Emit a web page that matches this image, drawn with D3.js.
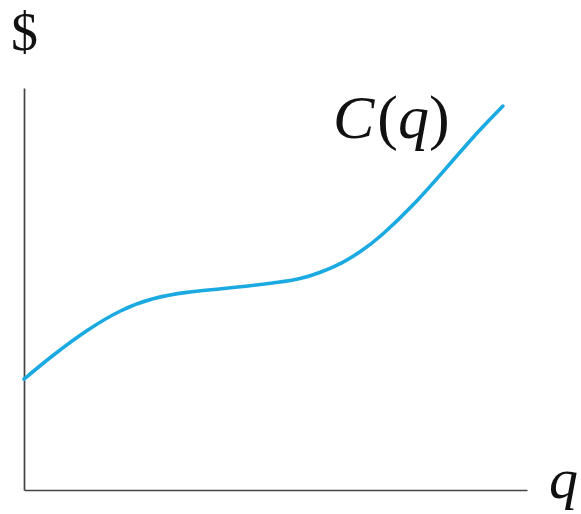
<!DOCTYPE html>
<html>
<head>
<meta charset="utf-8">
<script src="https://cdn.jsdelivr.net/npm/d3@7/dist/d3.min.js"></script>
<style>
  html, body { margin: 0; padding: 0; background: #fff; }
  svg { display: block; }
  .axis path { stroke: #444; stroke-width: 1.7; }
</style>
</head>
<body>
<svg id="chart" width="581" height="514"></svg>
<script>
// Data (arbitrary units 0..10)
const quantity = [0, 0.58, 1.25, 1.91, 2.56, 3.24, 3.90, 4.43, 5.09, 5.49, 5.88, 6.34, 6.72, 7.08, 7.73, 8.41, 9.07, 9.52];
const cost     = [2.76, 3.36, 3.98, 4.48, 4.78, 4.93, 5.00, 5.07, 5.17, 5.25, 5.40, 5.65, 5.95, 6.29, 7.06, 8.03, 8.98, 9.55];
const xDomain = [0, 10];
const yDomain = [0, 10];
const curveLabel = ["C", "(", "q", ")"];
const xLabel = "q";
const yLabel = "$";

const svg = d3.select("#chart");

const x = d3.scaleLinear().domain(xDomain).range([24, 527]);
const y = d3.scaleLinear().domain(yDomain).range([490, 88]);

// Axes: plain lines, no ticks
svg.append("g")
  .attr("class", "axis")
  .attr("transform", `translate(0,${y(0)})`)
  .call(d3.axisBottom(x).tickValues([]).tickSizeOuter(0));

svg.append("g")
  .attr("class", "axis")
  .attr("transform", `translate(${x(0)},0)`)
  .call(d3.axisLeft(y).tickValues([]).tickSizeOuter(0));

// Cost curve
const pts = quantity.map((q, i) => ({ q, c: cost[i] }));
const line = d3.line()
  .x(d => x(d.q))
  .y(d => y(d.c))
  .curve(d3.curveBasis);

svg.append("path")
  .datum(pts)
  .attr("d", line)
  .attr("fill", "none")
  .attr("stroke", "#1ba9e1")
  .attr("stroke-width", 3.6)
  .attr("stroke-linecap", "round");

const serif = "Liberation Serif, DejaVu Serif, serif";

// Labels
svg.append("text")
  .attr("x", 11)
  .attr("y", 50)
  .attr("font-family", serif)
  .attr("font-size", 54)
  .attr("fill", "#111")
  .text(yLabel);

const cl = svg.append("text")
  .attr("x", 333)
  .attr("y", 138)
  .attr("font-family", serif)
  .attr("font-size", 62)
  .attr("fill", "#111");
cl.selectAll("tspan")
  .data(curveLabel)
  .join("tspan")
  .attr("font-style", d => (d === "(" || d === ")") ? "normal" : "italic")
  .attr("dx", (d, i) => i === 1 ? 3 : 0)
  .text(d => d);

svg.append("text")
  .attr("x", 549)
  .attr("y", 498)
  .attr("font-family", serif)
  .attr("font-style", "italic")
  .attr("font-size", 58)
  .attr("fill", "#111")
  .text(xLabel);
</script>
</body>
</html>
